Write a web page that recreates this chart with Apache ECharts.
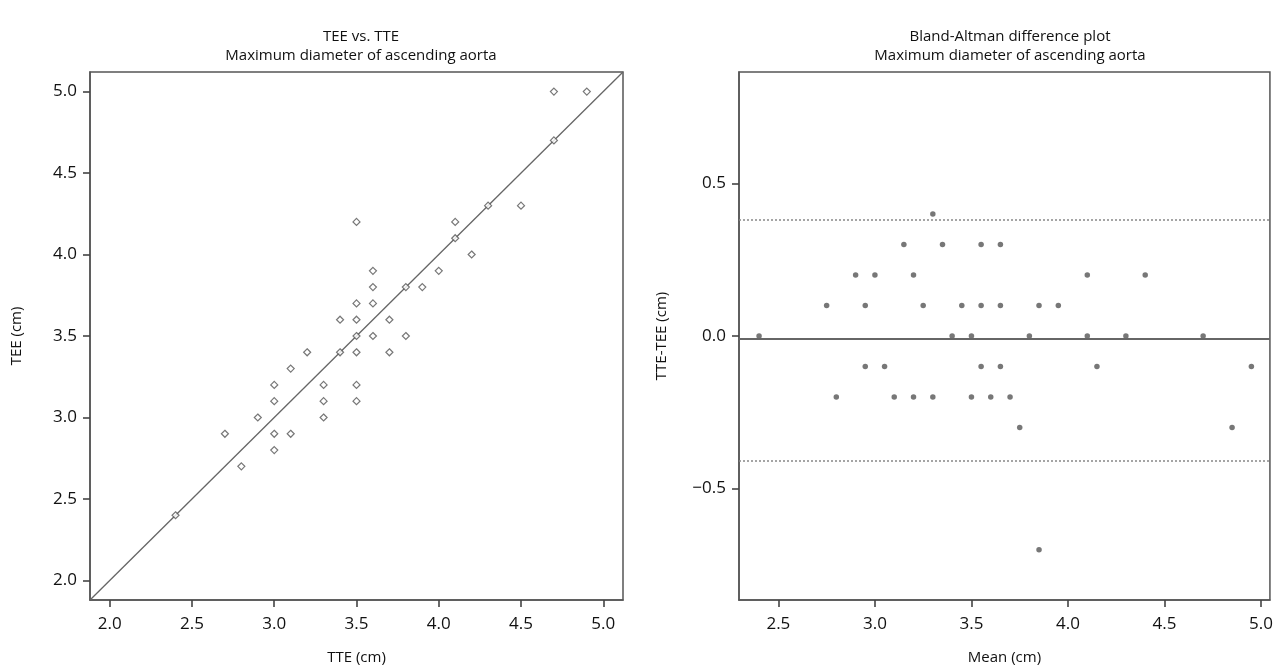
<!DOCTYPE html>
<html>
<head>
<meta charset="utf-8">
<script src="https://cdn.jsdelivr.net/npm/echarts@6/dist/echarts.min.js"></script>
<style>
html,body{margin:0;padding:0;background:#fff;overflow:hidden;width:1276px;height:670px;}
#c{width:1276px;height:670px;}
</style>
</head>
<body>
<div id="c"></div>
<script>
// ---- Left panel: TEE vs. TTE (cm) ----
const tte = [2.4, 2.7, 2.8, 2.9, 3.0, 3.0, 3.0, 3.0, 3.1, 3.1, 3.2, 3.3, 3.3, 3.3, 3.4, 3.4,
             3.5, 3.5, 3.5, 3.5, 3.5, 3.5, 3.5, 3.6, 3.6, 3.6, 3.6, 3.7, 3.7, 3.8, 3.8, 3.9,
             4.0, 4.1, 4.1, 4.2, 4.3, 4.5, 4.7, 4.7, 4.9];
const tee = [2.4, 2.9, 2.7, 3.0, 3.2, 3.1, 2.9, 2.8, 3.3, 2.9, 3.4, 3.2, 3.1, 3.0, 3.6, 3.4,
             4.2, 3.7, 3.6, 3.5, 3.4, 3.2, 3.1, 3.9, 3.8, 3.7, 3.5, 3.6, 3.4, 3.8, 3.5, 3.8,
             3.9, 4.2, 4.1, 4.0, 4.3, 4.3, 5.0, 4.7, 5.0];
const leftTicks = [2.0, 2.5, 3.0, 3.5, 4.0, 4.5, 5.0];
const leftMin = 1.88, leftMax = 5.12;

// ---- Right panel: Bland-Altman (mean vs difference, cm) ----
const baMean = [2.4, 2.8, 2.75, 2.95, 3.1, 3.05, 2.95, 2.9, 3.2, 3.0, 3.3, 3.25, 3.2, 3.15, 3.5, 3.4,
                3.85, 3.6, 3.55, 3.5, 3.45, 3.35, 3.3, 3.75, 3.7, 3.65, 3.55, 3.65, 3.55, 3.8, 3.65, 3.85,
                3.95, 4.15, 4.1, 4.1, 4.3, 4.4, 4.85, 4.7, 4.95];
const baDiff = [0.0, -0.2, 0.1, -0.1, -0.2, -0.1, 0.1, 0.2, -0.2, 0.2, -0.2, 0.1, 0.2, 0.3, -0.2, 0.0,
                -0.7, -0.2, -0.1, 0.0, 0.1, 0.3, 0.4, -0.3, -0.2, -0.1, 0.1, 0.1, 0.3, 0.0, 0.3, 0.1,
                0.1, -0.1, 0.0, 0.2, 0.0, 0.2, -0.3, 0.0, -0.1];
const rightXTicks = [2.5, 3.0, 3.5, 4.0, 4.5, 5.0];
const rightYTicks = [-0.5, 0.0, 0.5];
const rightXMin = 2.296, rightXMax = 5.046;
const rightYMin = -0.865, rightYMax = 0.865;
const meanDiff = -0.014, upperLoA = 0.383, lowerLoA = -0.41;

const FONT = '"Open Sans", "Noto Sans", sans-serif';
const TXT = '#111';
const AX = '#555';

function fmt(v){ return v < 0 ? '\u2212' + Math.abs(v).toFixed(1) : v.toFixed(1); }

function axisBase(min, max, ticks, name, gap, isY){
  return {
    type: 'value', min: min, max: max,
    name: name, nameLocation: 'middle', nameGap: gap,
    nameTextStyle: {fontFamily: FONT, fontSize: 15, color: TXT},
    axisLine: {show: true, onZero: false, lineStyle: {color: AX, width: 1.5}},
    axisTick: {show: true, inside: false, length: 7, customValues: ticks, lineStyle: {color: '#444', width: 1.6}},
    axisLabel: {show: true, customValues: ticks, formatter: fmt, margin: isY ? 13 : 16,
                fontFamily: FONT, fontSize: 17, color: TXT},
    splitLine: {show: false}
  };
}

const chart = echarts.init(document.getElementById('c'), null, {renderer: 'canvas', width: 1276, height: 670});
chart.setOption({
  backgroundColor: '#fff',
  animation: false,
  title: [
    {text: 'TEE vs. TTE\nMaximum diameter of ascending aorta', left: 356, top: 22, textAlign: 'center',
     textStyle: {fontFamily: FONT, fontSize: 15, fontWeight: 'normal', color: TXT, lineHeight: 19}},
    {text: 'Bland-Altman difference plot\nMaximum diameter of ascending aorta', left: 1005, top: 22, textAlign: 'center',
     textStyle: {fontFamily: FONT, fontSize: 15, fontWeight: 'normal', color: TXT, lineHeight: 19}}
  ],
  grid: [
    {left: 90, top: 72, width: 533, height: 533, show: true, borderColor: AX, borderWidth: 1.5, backgroundColor: 'transparent'},
    {left: 739, top: 72, width: 533, height: 533, show: true, borderColor: AX, borderWidth: 1.5, backgroundColor: 'transparent'}
  ],
  xAxis: [
    Object.assign(axisBase(leftMin, leftMax, leftTicks, 'TTE (cm)', 50, false), {gridIndex: 0}),
    Object.assign(axisBase(rightXMin, rightXMax, rightXTicks, 'Mean (cm)', 50, false), {gridIndex: 1})
  ],
  yAxis: [
    Object.assign(axisBase(leftMin, leftMax, leftTicks, 'TEE (cm)', 66, true), {gridIndex: 0}),
    Object.assign(axisBase(rightYMin, rightYMax, rightYTicks, 'TTE-TEE (cm)', 70, true), {gridIndex: 1})
  ],
  series: [
    {
      type: 'line', xAxisIndex: 0, yAxisIndex: 0,
      data: [[leftMin, leftMin], [leftMax, leftMax]],
      symbol: 'none', lineStyle: {color: '#666', width: 1.3}, z: 1, silent: true
    },
    {
      type: 'scatter', xAxisIndex: 0, yAxisIndex: 0,
      data: tte.map((v, i) => [v, tee[i]]),
      symbol: 'diamond', symbolSize: 7,
      itemStyle: {color: '#fff', borderColor: '#555', borderWidth: 1.2}, z: 3
    },
    {
      type: 'scatter', xAxisIndex: 1, yAxisIndex: 1,
      data: baMean.map((v, i) => [v, baDiff[i]]),
      symbol: 'circle', symbolSize: 5.5,
      itemStyle: {color: '#555'}, z: 3,
      markLine: {
        silent: true, symbol: 'none', label: {show: false},
        data: [
          {yAxis: meanDiff, lineStyle: {type: 'solid', color: '#666', width: 2}},
          {yAxis: upperLoA, lineStyle: {type: [2, 2], color: '#888', width: 1.5}},
          {yAxis: lowerLoA, lineStyle: {type: [2, 2], color: '#888', width: 1.5}}
        ]
      }
    }
  ]
});
</script>
</body>
</html>
